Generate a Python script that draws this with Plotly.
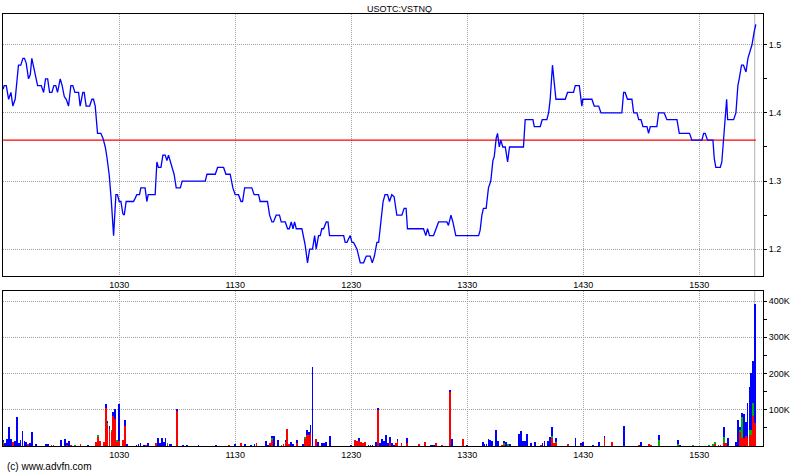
import plotly.graph_objects as go

# ---- price data (minutes after 09:30, price) ----
price_time = [
    0, 0.5, 1.6, 2.8, 4.0, 5.0, 6.2, 7.9, 9.1, 10.2,
    11.0, 11.9, 13.1, 14.0, 14.8, 15.7, 16.9, 17.8, 19.7, 20.9,
    21.9, 23.0, 24.0, 25.2, 26.2, 27.2, 28.1, 29.5, 30.5, 31.6,
    32.6, 33.8, 35.0, 36.0, 37.1, 39.0, 39.8, 41.2, 41.9, 42.9,
    44.7, 45.9, 46.7, 47.6, 48.8, 50.5, 51.6, 52.8, 53.6, 54.8,
    55.9, 57.1, 58.3, 59.1, 60.0, 60.9, 61.9, 62.6, 63.6, 67.4,
    68.3, 69.1, 70.5, 71.2, 73.4, 74.3, 75.0, 78.6, 79.5, 80.3,
    81.6, 82.6, 83.8, 84.7, 85.5, 86.4, 87.6, 88.4, 89.5, 91.6,
    92.6, 104.5, 105.4, 109.7, 110.9, 114.0, 115.2, 117.4, 118.8, 120.0,
    121.7, 123.0, 123.8, 124.9, 128.6, 129.8, 132.1, 132.9, 136.7, 137.8,
    139.0, 139.8, 141.2, 142.9, 143.8, 145.9, 147.1, 148.0, 149.0, 149.9,
    150.7, 151.6, 154.5, 156.2, 157.4, 158.5, 160.0, 161.1, 161.9, 163.1,
    164.0, 164.8, 165.7, 167.1, 168.0, 168.8, 176.1, 176.9, 177.8, 179.5,
    180.4, 181.2, 183.0, 184.7, 186.4, 187.8, 189.8, 190.9, 192.0, 193.3,
    194.2, 195.2, 196.5, 197.5, 198.8, 199.8, 201.0, 202.2, 203.6, 206.2,
    207.4, 208.4, 209.1, 217.4, 218.6, 219.5, 220.5, 222.6, 225.2, 229.5,
    230.3, 231.6, 232.6, 234.1, 245.9, 246.7, 247.6, 248.4, 249.8, 251.0,
    252.2, 253.3, 254.0, 255.0, 255.7, 256.6, 257.4, 258.4, 259.7, 260.9,
    261.9, 269.1, 270.0, 270.9, 274.0, 274.7, 277.8, 278.8, 281.2, 282.1,
    282.9, 284.1, 285.0, 285.9, 290.7, 291.9, 295.0, 295.9, 298.0, 298.8,
    299.3, 299.8, 304.5, 305.7, 308.0, 309.2, 320.0, 320.9, 321.7, 322.9,
    325.2, 326.1, 327.8, 328.7, 329.9, 330.9, 333.0, 333.8, 334.7, 338.1,
    339.0, 341.9, 343.3, 348.5, 349.7, 355.0, 356.2, 361.4, 362.3, 363.1,
    364.3, 367.1, 367.8, 368.6, 370.9, 371.7, 372.6, 373.5, 374.2, 374.7,
    377.8, 379.0, 380.0, 380.7, 381.9, 382.9, 384.2, 385.2, 386.4, 387.3,
    388.5, 389.3,
]
price_value = [
    1.435, 1.44, 1.44, 1.42, 1.43, 1.41, 1.42, 1.47, 1.47, 1.48,
    1.48, 1.473, 1.45, 1.456, 1.48, 1.468, 1.45, 1.44, 1.44, 1.43,
    1.45, 1.45, 1.43, 1.43, 1.44, 1.44, 1.43, 1.45, 1.44, 1.424,
    1.42, 1.41, 1.44, 1.44, 1.43, 1.43, 1.41, 1.43, 1.43, 1.41,
    1.41, 1.42, 1.42, 1.41, 1.37, 1.37, 1.363, 1.35, 1.336, 1.31,
    1.272, 1.22, 1.28, 1.28, 1.27, 1.27, 1.252, 1.25, 1.27, 1.27,
    1.275, 1.28, 1.28, 1.29, 1.29, 1.27, 1.28, 1.28, 1.328, 1.32,
    1.32, 1.338, 1.338, 1.33, 1.338, 1.33, 1.32, 1.31, 1.29, 1.29,
    1.30, 1.30, 1.31, 1.31, 1.32, 1.32, 1.31, 1.31, 1.29, 1.28,
    1.28, 1.27, 1.27, 1.29, 1.29, 1.28, 1.28, 1.27, 1.27, 1.25,
    1.24, 1.24, 1.25, 1.25, 1.24, 1.24, 1.23, 1.23, 1.24, 1.23,
    1.24, 1.23, 1.23, 1.206, 1.18, 1.20, 1.20, 1.22, 1.20, 1.22,
    1.22, 1.23, 1.23, 1.24, 1.24, 1.22, 1.22, 1.21, 1.21, 1.22,
    1.21, 1.21, 1.20, 1.18, 1.18, 1.19, 1.19, 1.18, 1.19, 1.21,
    1.21, 1.235, 1.27, 1.28, 1.28, 1.27, 1.28, 1.277, 1.25, 1.25,
    1.26, 1.26, 1.23, 1.23, 1.22, 1.23, 1.22, 1.22, 1.24, 1.24,
    1.235, 1.25, 1.24, 1.22, 1.22, 1.228, 1.25, 1.26, 1.26, 1.29,
    1.30, 1.33, 1.336, 1.363, 1.37, 1.35, 1.36, 1.35, 1.35, 1.328,
    1.35, 1.35, 1.39, 1.39, 1.39, 1.38, 1.38, 1.39, 1.39, 1.40,
    1.419, 1.47, 1.449, 1.42, 1.42, 1.43, 1.43, 1.44, 1.44, 1.42,
    1.41, 1.42, 1.42, 1.41, 1.41, 1.40, 1.40, 1.43, 1.43, 1.42,
    1.42, 1.40, 1.40, 1.39, 1.39, 1.38, 1.38, 1.37, 1.38, 1.38,
    1.40, 1.40, 1.39, 1.39, 1.37, 1.37, 1.36, 1.36, 1.37, 1.37,
    1.36, 1.36, 1.333, 1.32, 1.32, 1.328, 1.36, 1.40, 1.42, 1.39,
    1.39, 1.40, 1.44, 1.45, 1.47, 1.47, 1.46, 1.48, 1.49, 1.50,
    1.52, 1.53,
]
prev_close = 1.36

# ---- volume data (minutes after 09:30, thousands of shares) ----
vol_time = [
    0, 1, 2, 3, 4, 5, 6, 7, 8, 9,
    10, 11, 12, 13, 14, 15, 17, 22, 23, 25,
    26, 30, 32, 33, 34, 35, 37, 40, 44, 48,
    49, 50, 52, 53, 54, 55, 56, 57, 58, 59,
    60, 62, 63, 64, 69, 70, 71, 73, 74, 75,
    79, 80, 81, 82, 83, 84, 85, 86, 87, 90,
    93, 95, 101, 110, 117, 120, 123, 125, 128, 130,
    131, 136, 137, 138, 139, 140, 142, 144, 145, 146,
    147, 148, 149, 150, 152, 155, 156, 157, 158, 159,
    160, 162, 163, 165, 166, 167, 169, 180, 182, 183,
    184, 185, 186, 187, 189, 190, 191, 193, 194, 195,
    196, 197, 198, 199, 200, 201, 202, 203, 204, 206,
    209, 215, 218, 221, 222, 223, 224, 227, 231, 232,
    238, 240, 248, 249, 250, 251, 252, 253, 255, 256,
    258, 259, 260, 261, 262, 267, 268, 269, 270, 271,
    273, 275, 278, 279, 280, 282, 283, 284, 285, 286,
    292, 296, 299, 300, 305, 308, 311, 315, 321, 329,
    330, 334, 335, 339, 349, 350, 357, 365, 367, 368,
    370, 371, 373, 374, 375, 379, 380, 381, 382, 383,
    384, 385, 386, 387, 388, 389,
]
vol_red = [
    8, 0, 0, 0, 0, 12, 0, 0, 0, 0,
    0, 0, 0, 7, 3, 0, 0, 0, 0, 4,
    4, 0, 0, 5, 0, 4, 0, 5, 0, 12,
    27, 15, 12, 107, 61, 49, 40, 84, 75, 14,
    14, 17, 56, 0, 0, 0, 0, 0, 3, 0,
    10, 0, 0, 0, 0, 0, 6, 0, 0, 100,
    0, 0, 0, 0, 4, 0, 10, 0, 0, 0,
    10, 0, 0, 10, 19, 0, 0, 0, 7, 10,
    47, 7, 0, 0, 10, 0, 21, 31, 31, 38,
    0, 21, 0, 0, 0, 0, 0, 0, 17, 15,
    15, 13, 10, 13, 0, 0, 0, 0, 102, 0,
    0, 0, 0, 0, 10, 0, 0, 8, 14, 10,
    10, 7, 12, 0, 0, 0, 10, 4, 150, 0,
    21, 0, 0, 0, 0, 0, 0, 0, 0, 0,
    4, 6, 0, 0, 0, 0, 0, 0, 0, 0,
    0, 0, 3, 0, 0, 0, 0, 24, 10, 10,
    6, 0, 4, 0, 0, 0, 24, 13, 0, 3,
    0, 7, 4, 0, 0, 0, 0, 0, 0, 7,
    4, 4, 10, 10, 0, 0, 0, 41, 24, 24,
    28, 24, 31, 31, 83, 64,
]
vol_green = [
    3, 0, 0, 0, 0, 0, 0, 0, 0, 0,
    0, 0, 0, 0, 0, 0, 0, 0, 0, 0,
    0, 0, 0, 0, 0, 0, 4, 0, 0, 0,
    2, 0, 0, 0, 3, 0, 3, 0, 0, 2,
    0, 0, 0, 0, 0, 0, 0, 0, 0, 0,
    0, 0, 0, 0, 0, 0, 4, 0, 0, 0,
    0, 0, 0, 0, 0, 0, 0, 0, 0, 0,
    0, 0, 0, 0, 5, 0, 0, 3, 0, 3,
    0, 0, 0, 0, 0, 0, 3, 0, 0, 0,
    0, 0, 0, 0, 0, 0, 0, 0, 0, 0,
    0, 0, 0, 0, 0, 0, 0, 0, 0, 0,
    0, 0, 0, 0, 0, 0, 0, 0, 0, 0,
    0, 0, 0, 0, 0, 0, 0, 0, 2, 0,
    0, 0, 0, 0, 0, 0, 0, 0, 0, 0,
    0, 4, 0, 7, 0, 0, 0, 0, 0, 0,
    0, 0, 0, 0, 0, 0, 0, 5, 0, 3,
    0, 0, 0, 0, 0, 0, 0, 0, 0, 0,
    0, 0, 0, 17, 5, 0, 4, 4, 7, 5,
    0, 0, 15, 0, 0, 0, 0, 5, 57, 0,
    0, 0, 14, 15, 37, 0,
]
vol_blue = [
    7, 10, 20, 54, 21, 0, 15, 81, 10, 18,
    43, 15, 13, 0, 5, 40, 7, 5, 7, 0,
    0, 18, 19, 5, 15, 0, 0, 0, 4, 0,
    0, 0, 0, 11, 7, 7, 0, 11, 28, 0,
    104, 0, 17, 5, 4, 6, 10, 4, 0, 10,
    0, 24, 10, 24, 13, 24, 0, 5, 7, 3,
    4, 4, 4, 4, 0, 5, 0, 6, 4, 6,
    0, 15, 3, 0, 5, 29, 18, 0, 0, 5,
    0, 0, 12, 7, 8, 7, 0, 15, 8, 22,
    218, 0, 13, 10, 10, 13, 29, 3, 0, 0,
    7, 0, 0, 0, 4, 4, 4, 12, 3, 10,
    21, 15, 32, 10, 17, 10, 4, 0, 7, 0,
    13, 0, 0, 4, 4, 4, 0, 0, 2, 21,
    0, 3, 13, 6, 7, 21, 18, 15, 45, 15,
    0, 5, 12, 0, 7, 35, 43, 15, 15, 35,
    10, 12, 0, 8, 15, 15, 26, 25, 0, 10,
    0, 23, 6, 12, 4, 13, 5, 0, 56, 0,
    12, 0, 0, 14, 13, 4, 0, 0, 0, 0,
    0, 0, 29, 0, 23, 13, 73, 7, 12, 65,
    38, 95, 118, 157, 115, 329,
]

# ---- axis labels ----
time_tickvals = [60, 120, 180, 240, 300, 360]
time_ticktext = ["1030", "1130", "1230", "1330", "1430", "1530"]
price_ticks = [1.2, 1.3, 1.4, 1.5]
price_minor = [1.25, 1.35, 1.45]
vol_ticks = [100, 200, 300, 400]
vol_ticktext = ["100K", "200K", "300K", "400K"]
vol_minor = [50, 150, 250, 350]
title_text = "USOTC:VSTNQ"
footer_text = "(c) www.advfn.com"

FONT = "Liberation Sans, Arial, sans-serif"
GRID = "#a0a0a0"

fig = go.Figure()

fig.add_trace(go.Scatter(
    x=[price_time[0], price_time[-1]], y=[prev_close, prev_close],
    mode="lines", line=dict(color="#ff0000", width=1.2),
    xaxis="x", yaxis="y", hoverinfo="skip", showlegend=False))

fig.add_trace(go.Scatter(
    x=price_time, y=price_value, mode="lines",
    line=dict(color="#0000ff", width=1.3),
    xaxis="x", yaxis="y", showlegend=False))

for vals, col in [(vol_red, "#ff0000"), (vol_green, "#00b000"), (vol_blue, "#0000ff")]:
    fig.add_trace(go.Bar(
        x=vol_time, y=vals, width=0.42,
        marker=dict(color=col, line=dict(width=0)),
        xaxis="x2", yaxis="y2", showlegend=False))

last_t = price_time[-1]
for xr, yr in [("x", "y domain"), ("x2", "y2 domain")]:
    fig.add_shape(type="line", xref=xr, yref=yr,
                  x0=last_t - 0.6, x1=last_t - 0.6, y0=0, y1=1,
                  line=dict(color="#b0b0b0", width=1), layer="below")

xcommon = dict(
    range=[-0.1, 393], tickmode="array", tickvals=time_tickvals, ticktext=time_ticktext,
    showgrid=True, gridcolor=GRID, gridwidth=1, griddash="1px,1px", zeroline=False,
    showline=True, linecolor="black", linewidth=1, mirror=True,
    ticks="", tickfont=dict(family=FONT, size=9, color="black"),
)

fig.update_layout(
    width=800, height=475,
    margin=dict(l=3, r=37, t=14, b=29),
    paper_bgcolor="white", plot_bgcolor="white",
    barmode="stack", bargap=0,
    showlegend=False,
    xaxis=dict(domain=[0, 1], anchor="y", **xcommon),
    xaxis2=dict(domain=[0, 1], anchor="y2", matches="x", **xcommon),
    yaxis=dict(
        domain=[0.3935, 1], anchor="x", side="right",
        range=[1.1607, 1.5451], tickmode="array", tickvals=price_ticks,
        ticktext=[f"{v:g}" for v in price_ticks],
        showgrid=True, gridcolor=GRID, gridwidth=1, griddash="1px,1px", zeroline=False,
        showline=True, linecolor="black", linewidth=1, mirror=True,
        ticks="outside", ticklen=3, tickcolor="black",
        minor=dict(tickvals=price_minor, ticks="outside", ticklen=3,
                   tickcolor="black", showgrid=False),
        tickfont=dict(family=FONT, size=9, color="black"),
    ),
    yaxis2=dict(
        domain=[0, 0.3595], anchor="x2", side="right",
        range=[0, 428.6], tickmode="array", tickvals=vol_ticks, ticktext=vol_ticktext,
        showgrid=True, gridcolor=GRID, gridwidth=1, griddash="1px,1px", zeroline=False,
        showline=True, linecolor="black", linewidth=1, mirror=True,
        ticks="outside", ticklen=3, tickcolor="black",
        minor=dict(tickvals=vol_minor, ticks="outside", ticklen=3,
                   tickcolor="black", showgrid=False),
        tickfont=dict(family=FONT, size=9, color="black"),
    ),
    annotations=[
        dict(text=title_text, xref="paper", yref="paper", x=0.522, y=1.0127,
             xanchor="center", yanchor="middle", showarrow=False,
             font=dict(family=FONT, size=9, color="black")),
        dict(text=footer_text, xref="paper", yref="paper", x=0.0026, y=-0.0486,
             xanchor="left", yanchor="middle", showarrow=False,
             font=dict(family=FONT, size=10, color="black")),
    ],
)

fig.write_html("out.html", config={"displayModeBar": False},
               post_script="document.body.style.margin='0';document.body.style.overflow='hidden';")
